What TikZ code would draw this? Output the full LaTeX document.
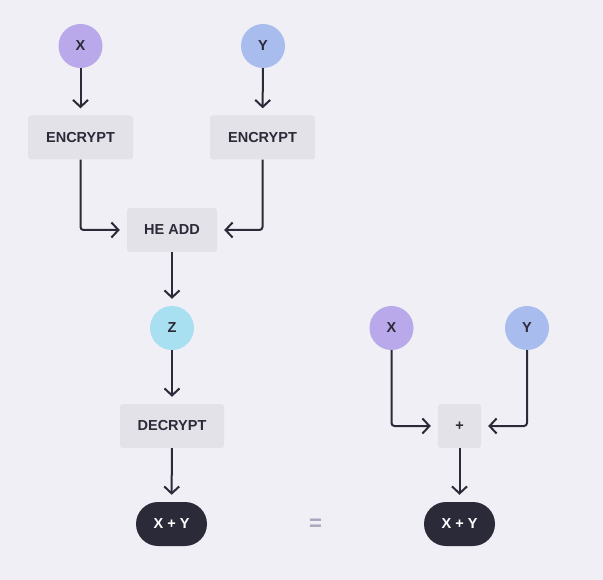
\documentclass[tikz,border=0pt]{standalone}
\usepackage{fontspec}
\setmainfont{Liberation Sans}
\usetikzlibrary{arrows.meta}
\definecolor{bg}{HTML}{F0EFF5}
\definecolor{boxc}{HTML}{E3E2E8}
\definecolor{ink}{HTML}{2B2A38}
\definecolor{cx}{HTML}{B9A9EA}
\definecolor{cy}{HTML}{A8BCEE}
\definecolor{cz}{HTML}{A8E0F2}
\definecolor{eqc}{HTML}{A8A6BD}
\tikzset{
  every node/.style={font=\fontsize{14.5}{16}\selectfont\bfseries, text=ink, inner sep=0pt},
  circ/.style={circle, minimum size=44pt},
  opbox/.style={rectangle, rounded corners=3pt, fill=boxc, minimum height=44pt},
  pill/.style={rectangle, rounded corners=22pt, fill=ink, text=white, minimum height=44pt, minimum width=71pt},
  arr/.style={draw=ink, line width=2pt, rounded corners=3pt, shorten >=7pt,
    -{Straight Barb[length=7pt,width=15pt,line width=2pt]}},
}
\begin{document}
\begin{tikzpicture}[x=1pt,y=-1pt]
\fill[bg] (0,0) rectangle (603,580);
\useasboundingbox (0,0) rectangle (603,580);
\node[circ, fill=cx] (x1) at (80.5,46) {X};
\node[circ, fill=cy] (y1) at (263,46) {Y};
\node[opbox, minimum width=105pt] (enc1) at (80.5,137.5) {ENCRYPT};
\node[opbox, minimum width=105pt] (enc2) at (262.5,137.5) {ENCRYPT};
\node[opbox, minimum width=90pt] (he) at (172,230) {HE ADD};
\node[circ, fill=cz] (z) at (172,328) {Z};
\node[opbox, minimum width=104pt] (dec) at (172,426) {DECRYPT};
\node[pill] (r1) at (171.5,524) {X + Y};
\node[text=eqc, font=\fontsize{22}{24}\selectfont\bfseries] (eq) at (315.5,524.5) {=};
\node[circ, fill=cx] (x2) at (391.5,328) {X};
\node[circ, fill=cy] (y2) at (527,328) {Y};
\node[opbox, minimum width=43pt] (plus) at (459.5,426) {+};
\node[pill] (r2) at (459.5,524) {X + Y};
\draw[arr] (x1) -- (enc1);
\draw[arr] (y1) -- (enc2);
\draw[arr] (enc1.south) |- (he.west);
\draw[arr] (enc2.south) |- (he.east);
\draw[arr] (he) -- (z);
\draw[arr] (z) -- (dec);
\draw[arr] (dec) -- (r1);
\draw[arr] (x2.south) |- (plus.west);
\draw[arr] (y2.south) |- (plus.east);
\draw[arr] (plus) -- (r2);
\end{tikzpicture}
\end{document}
